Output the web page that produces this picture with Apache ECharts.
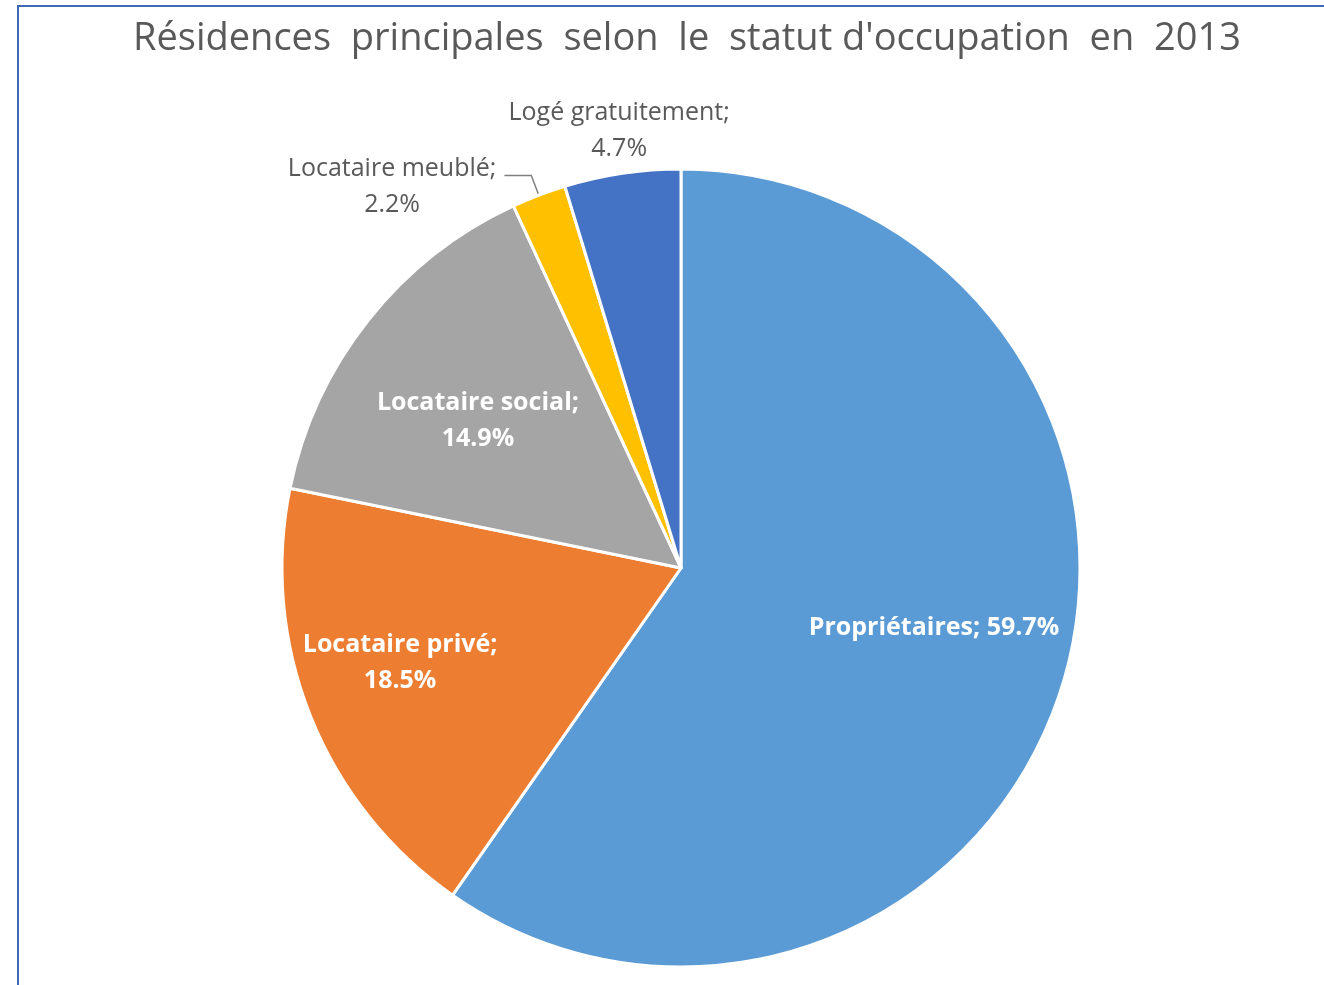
<!DOCTYPE html>
<html>
<head>
<meta charset="utf-8">
<script src="https://cdn.jsdelivr.net/npm/echarts@6/dist/echarts.min.js"></script>
<style>
html,body{margin:0;padding:0;background:#fff;}
#chart{width:1324px;height:985px;}
</style>
</head>
<body>
<div id="chart"></div>
<script>
const titleText = "Résidences  principales  selon  le  statut d'occupation  en  2013";
const categories = ["Propriétaires", "Locataire privé", "Locataire social", "Locataire meublé", "Logé gratuitement"];
const values = [59.7, 18.5, 14.9, 2.2, 4.7];
const colors = ["#5B9BD5", "#ED7D31", "#A5A5A5", "#FFC000", "#4472C4"];

// layout constants
const CX = 681, CY = 568, R = 399;
const insideLabel = [true, true, true, false, false];
const labelRel = [[0.634, 0.150], [-0.704, 0.238], [-0.509, -0.368], [-0.724, -0.955], [-0.155, -1.095]];
const leaderLine = [false, false, false, true, false];

const total = values.reduce((a, b) => a + b, 0);
function midAngle(i) {
  let c = 0;
  for (let k = 0; k < i; k++) c += values[k];
  return ((c + values[i] / 2) / total) * 2 * Math.PI;
}

const chart = echarts.init(document.getElementById('chart'), null, {renderer: 'canvas'});
const data = categories.map((name, i) => ({
  name: name,
  value: values[i],
  itemStyle: {color: colors[i]},
  label: insideLabel[i]
    ? {color: '#ffffff', fontWeight: 'bold', position: 'inside'}
    : {color: '#595959', fontWeight: 'normal', position: 'outside'},
  labelLine: {show: leaderLine[i], lineStyle: {color: '#7F7F7F', width: 1.5}}
}));

chart.setOption({
  backgroundColor: '#ffffff',
  animation: false,
  title: {
    text: titleText,
    left: 128,
    top: 15,
    textStyle: {fontFamily: 'Open Sans', fontSize: 38, fontWeight: 'normal', color: '#595959'}
  },
  graphic: [{
    type: 'rect',
    shape: {x: 18, y: 6, width: 1400, height: 1100},
    style: {fill: null, stroke: '#4169B8', lineWidth: 2},
    silent: true
  }],
  series: [{
    type: 'pie',
    center: [CX, CY],
    radius: R,
    startAngle: 90,
    clockwise: true,
    avoidLabelOverlap: false,
    itemStyle: {borderColor: '#ffffff', borderWidth: 3},
    label: {
      fontFamily: 'Open Sans',
      fontSize: 25,
      lineHeight: 36,
      formatter: function (p) {
        return p.dataIndex === 0 ? p.name + '; ' + p.value + '%' : p.name + ';\n' + p.value + '%';
      }
    },
    labelLayout: function (p) {
      const i = p.dataIndex;
      const out = {
        x: CX + labelRel[i][0] * R,
        y: CY + labelRel[i][1] * R,
        align: 'center',
        verticalAlign: 'middle'
      };
      if (leaderLine[i]) {
        const a = midAngle(i);
        const sx = CX + R * Math.sin(a), sy = CY - R * Math.cos(a);
        const bx = CX + (R + 21) * Math.sin(a), by = CY - (R + 21) * Math.cos(a);
        const ex = out.x + p.labelRect.width / 2 + 8;
        out.labelLinePoints = [[sx, sy], [bx, by], [ex, by]];
      }
      return out;
    },
    data: data
  }]
});
</script>
</body>
</html>
